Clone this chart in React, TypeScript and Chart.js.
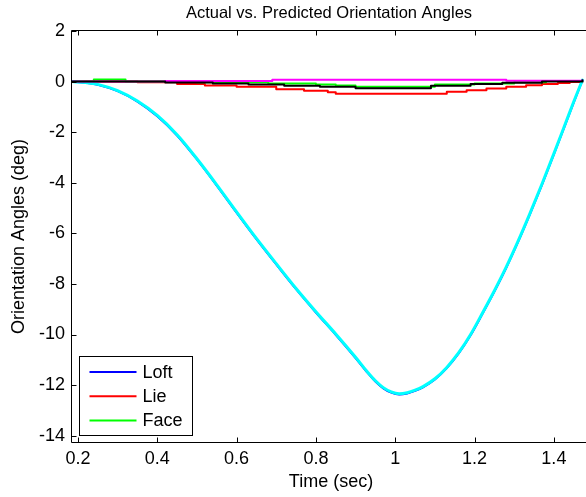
import { useEffect, useRef } from "react";
import { Chart, registerables } from "chart.js";

Chart.register(...registerables);

const chartTitle = "Actual vs. Predicted Orientation Angles";
const xLabel = "Time (sec)";
const yLabel = "Orientation Angles (deg)";
const xTicks = [0.2, 0.4, 0.6, 0.8, 1, 1.2, 1.4];
const yTicks = [-14, -12, -10, -8, -6, -4, -2, 0, 2];
const xRange = [0.185, 1.481];
const yRange = [-14.25, 2];
const legendLabels = ["Loft", "Lie", "Face"];

const loftTime = [0.185, 0.22, 0.25, 0.3, 0.35, 0.4, 0.45, 0.5, 0.55, 0.6, 0.65, 0.7, 0.75, 0.8, 0.85, 0.9, 0.93, 0.95, 0.97, 0.99, 1.01, 1.03, 1.05, 1.07, 1.1, 1.13, 1.16, 1.19, 1.22, 1.25, 1.28, 1.31, 1.34, 1.37, 1.4, 1.43, 1.45, 1.472];
const loftActual = [0, -0.05, -0.13, -0.38, -0.79, -1.37, -2.13, -3.08, -4.11, -5.18, -6.23, -7.23, -8.21, -9.13, -10.01, -10.93, -11.51, -11.86, -12.13, -12.3, -12.37, -12.33, -12.23, -12.09, -11.78, -11.33, -10.75, -10.03, -9.18, -8.3, -7.36, -6.33, -5.23, -4.08, -2.88, -1.65, -0.83, 0.05];
const loftPredicted = [0, -0.04, -0.11, -0.36, -0.77, -1.34, -2.1, -3.05, -4.08, -5.15, -6.2, -7.2, -8.18, -9.1, -9.98, -10.9, -11.48, -11.83, -12.1, -12.27, -12.34, -12.3, -12.2, -12.06, -11.75, -11.3, -10.72, -10.0, -9.15, -8.27, -7.33, -6.3, -5.2, -4.05, -2.85, -1.62, -0.8, 0.06];

const lieTime = [0.185, 0.35, 0.45, 0.52, 0.6, 0.7, 0.77, 0.83, 0.85, 1.12, 1.13, 1.18, 1.23, 1.28, 1.33, 1.37, 1.41, 1.44, 1.472];
const lieActual = [0, -0.03, -0.1, -0.15, -0.2, -0.3, -0.36, -0.42, -0.48, -0.48, -0.4, -0.34, -0.27, -0.2, -0.14, -0.1, -0.06, -0.02, 0.02];

const faceTime = [0.185, 0.24, 0.32, 0.5, 0.68, 0.8, 0.85, 0.9, 1.1, 1.2, 1.3, 1.38, 1.472];
const faceActual = [0, 0.08, 0, -0.03, -0.08, -0.12, -0.15, -0.2, -0.12, -0.08, -0.03, 0.02, 0.06];

const liePredTime = [0.185, 0.42, 0.69, 1.28, 1.472];
const liePredicted = [0, 0.02, 0.07, 0.03, 0.05];

const facePredTime = [0.185, 0.42, 0.54, 0.63, 0.72, 0.81, 0.9, 1.09, 1.19, 1.27, 1.37, 1.472];
const facePredicted = [0, -0.04, -0.08, -0.12, -0.16, -0.2, -0.26, -0.16, -0.1, -0.05, 0, 0.05];

const pts = (xs: number[], ys: number[]) => xs.map((x, i) => ({ x, y: ys[i] }));

const FONT = "'Liberation Sans', Arial, Helvetica, sans-serif";

const framePlugin = {
  id: "matlabFrame",
  afterDraw(chart: any) {
    const { ctx, chartArea } = chart;
    const xs = chart.scales.x;
    const ys = chart.scales.y;
    const L = chartArea.left - 0.5;
    const T = chartArea.top - 0.5;
    const B = chartArea.bottom + 0.5;
    const R = chartArea.right + 0.5;
    ctx.save();
    ctx.strokeStyle = "#000";
    ctx.lineWidth = 1;
    ctx.beginPath();
    ctx.moveTo(R, T);
    ctx.lineTo(L, T);
    ctx.lineTo(L, B);
    ctx.lineTo(R, B);
    ctx.stroke();
    const tl = 5;
    ctx.beginPath();
    xTicks.forEach((v) => {
      const px = Math.round(xs.getPixelForValue(v)) + 0.5;
      ctx.moveTo(px, B);
      ctx.lineTo(px, B - tl);
      ctx.moveTo(px, T);
      ctx.lineTo(px, T + tl);
    });
    yTicks.forEach((v) => {
      const py = Math.round(ys.getPixelForValue(v)) + 0.5;
      ctx.moveTo(L, py);
      ctx.lineTo(L + tl, py);
    });
    ctx.stroke();

    // titles
    ctx.fillStyle = "#000";
    ctx.textAlign = "center";
    ctx.textBaseline = "middle";
    ctx.font = `16.5px ${FONT}`;
    ctx.fillText(chartTitle, (chartArea.left + chartArea.right) / 2, 13);
    ctx.font = `18px ${FONT}`;
    ctx.fillText(xLabel, (chartArea.left + chartArea.right) / 2 + 2, 482);
    ctx.save();
    ctx.translate(19, (chartArea.top + chartArea.bottom) / 2);
    ctx.rotate(-Math.PI / 2);
    ctx.fillText(yLabel, 0, 0);
    ctx.restore();

    // legend
    const bx = chartArea.left + 7.5;
    const bw = 113;
    const bh = 79;
    const by = chartArea.bottom - 6.5 - bh;
    ctx.fillStyle = "#fff";
    ctx.fillRect(bx, by, bw, bh);
    ctx.strokeStyle = "#000";
    ctx.lineWidth = 1;
    ctx.strokeRect(bx, by, bw, bh);
    const colors = [chart.data.datasets[0].borderColor, chart.data.datasets[1].borderColor, chart.data.datasets[2].borderColor];
    legendLabels.forEach((lab, i) => {
      const cy = by + 15.5 + i * 24.2;
      ctx.strokeStyle = colors[i];
      ctx.lineWidth = 2;
      ctx.beginPath();
      ctx.moveTo(bx + 10, cy);
      ctx.lineTo(bx + 57, cy);
      ctx.stroke();
      ctx.fillStyle = "#000";
      ctx.textAlign = "left";
      ctx.textBaseline = "middle";
      ctx.font = `18px ${FONT}`;
      ctx.fillText(lab, bx + 63, cy + 1);
    });
    ctx.restore();
  },
};

export default function App() {
  const ref = useRef<HTMLCanvasElement | null>(null);
  useEffect(() => {
    document.body.style.margin = "0";
    const canvas = ref.current;
    if (!canvas) return;
    const chart = new Chart(canvas, {
      type: "line",
      data: {
        datasets: [
          { label: "Loft", data: pts(loftTime, loftActual), borderColor: "#0000ff", borderWidth: 2, order: 6, cubicInterpolationMode: "monotone" },
          { label: "Lie", data: pts(lieTime, lieActual), borderColor: "#ff0000", borderWidth: 2, order: 5, stepped: "before" },
          { label: "Face", data: pts(faceTime, faceActual), borderColor: "#00ff00", borderWidth: 2, order: 4, stepped: "before" },
          { label: "Loft predicted", data: pts(loftTime, loftPredicted), borderColor: "#00ffff", borderWidth: 3, order: 3, cubicInterpolationMode: "monotone" },
          { label: "Lie predicted", data: pts(liePredTime, liePredicted), borderColor: "#ff00ff", borderWidth: 2, order: 2, stepped: "before" },
          { label: "Face predicted", data: pts(facePredTime, facePredicted), borderColor: "#000000", borderWidth: 2, order: 1, stepped: "before" },
        ] as any,
      },
      options: {
        animation: false,
        responsive: false,
        events: [],
        elements: { point: { radius: 0 }, line: { borderJoinStyle: "round", borderCapStyle: "round" } },
        layout: { padding: { top: 31, right: 0, left: 0, bottom: 0 } },
        plugins: { legend: { display: false }, title: { display: false }, tooltip: { enabled: false } },
        scales: {
          x: {
            type: "linear",
            min: xRange[0],
            max: xRange[1],
            grid: { display: false, drawTicks: false },
            border: { display: false },
            afterBuildTicks: (s: any) => { s.ticks = xTicks.map((v) => ({ value: v })); },
            afterFit: (s: any) => { s.height = 55; },
            ticks: { color: "#000", padding: 6, font: { family: FONT, size: 18 }, callback: (v: any) => String(Math.round(Number(v) * 10) / 10) },
          },
          y: {
            type: "linear",
            min: yRange[0],
            max: yRange[1],
            grid: { display: false, drawTicks: false },
            border: { display: false },
            afterBuildTicks: (s: any) => { s.ticks = yTicks.map((v) => ({ value: v })); },
            afterFit: (s: any) => { s.width = 72; },
            ticks: { color: "#000", padding: 7, font: { family: FONT, size: 18 }, callback: (v: any) => String(v) },
          },
        },
      } as any,
      plugins: [framePlugin],
    });
    return () => chart.destroy();
  }, []);
  return (
    <div style={{ width: 586, height: 497, overflow: "hidden", background: "#fff" }}>
      <canvas ref={ref} width={586} height={497} style={{ display: "block", width: 586, height: 497 }} />
    </div>
  );
}
